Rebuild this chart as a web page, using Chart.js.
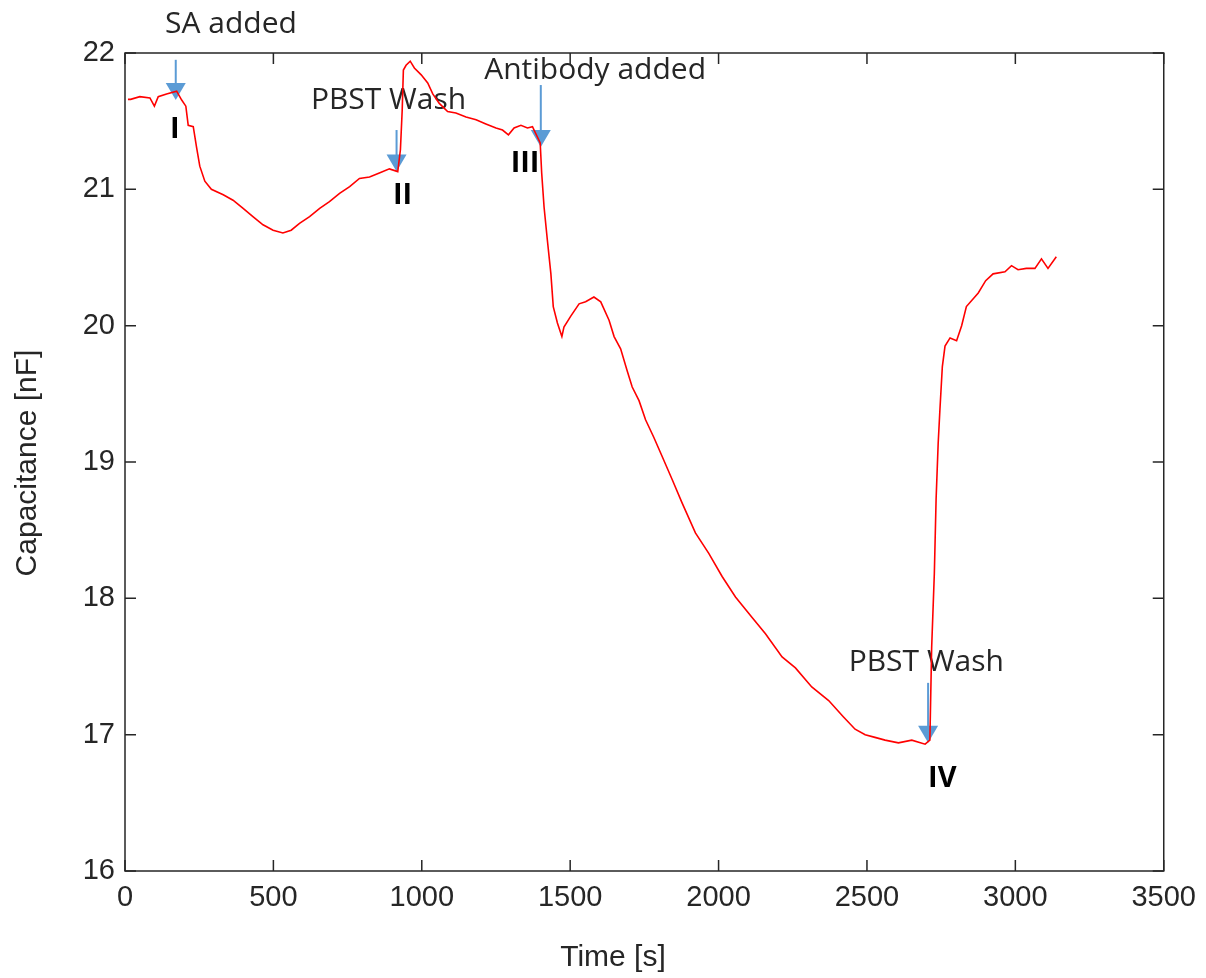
<!DOCTYPE html>
<html>
<head>
<meta charset="utf-8">
<script src="https://cdn.jsdelivr.net/npm/chart.js@4.4.1/dist/chart.umd.min.js"></script>
<style>
  html, body { margin: 0; padding: 0; background: #fff; }
  #wrap { width: 1206px; height: 978px; }
</style>
</head>
<body>
<div id="wrap"><canvas id="myChart" width="1206" height="978"></canvas></div>
<script>
// time in seconds
const times = [10, 19, 50, 84, 99, 112, 140, 174, 191, 205, 213, 230, 241, 252, 269, 291, 331, 364, 398, 431,
  465, 499, 532, 560, 588, 622, 656, 689, 723, 757, 790, 824, 857, 891, 919, 928, 934, 938, 947, 961,
  975, 998, 1020, 1037, 1059, 1087, 1115, 1149, 1183, 1216, 1250, 1272, 1292, 1311, 1334, 1356, 1373,
  1399, 1404, 1412, 1423, 1435, 1443, 1457, 1472, 1479, 1502, 1530, 1552, 1580, 1603, 1631, 1648,
  1670, 1692, 1709, 1732, 1754, 1782, 1810, 1844, 1877, 1922, 1967, 2012, 2057, 2113, 2158, 2214,
  2259, 2314, 2371, 2421, 2460, 2494, 2527, 2561, 2606, 2651, 2696, 2712, 2718, 2727, 2733, 2740,
  2746, 2754, 2763, 2780, 2802, 2819, 2835, 2875, 2900, 2925, 2965, 2987, 3009, 3037, 3066, 3088,
  3110, 3138];

// capacitance in nF
const capacitance = [21.66, 21.66, 21.68, 21.67, 21.61, 21.68, 21.70, 21.72, 21.655, 21.61, 21.47, 21.46, 21.31, 21.17, 21.06, 21.00, 20.96, 20.92, 20.86, 20.80,
  20.74, 20.70, 20.68, 20.70, 20.75, 20.80, 20.86, 20.91, 20.97, 21.02, 21.08, 21.09, 21.12, 21.15, 21.13, 21.29, 21.58, 21.875, 21.91, 21.94,
  21.89, 21.84, 21.78, 21.70, 21.63, 21.57, 21.56, 21.53, 21.51, 21.48, 21.45, 21.435, 21.40, 21.45, 21.47, 21.45, 21.46,
  21.34, 21.12, 20.87, 20.63, 20.38, 20.14, 20.02, 19.92, 19.99, 20.07, 20.16, 20.175, 20.21, 20.175, 20.04, 19.92,
  19.83, 19.67, 19.55, 19.45, 19.31, 19.18, 19.04, 18.87, 18.70, 18.48, 18.33, 18.16, 18.01, 17.86, 17.74, 17.57,
  17.49, 17.35, 17.25, 17.13, 17.04, 17.00, 16.98, 16.96, 16.94, 16.96, 16.93, 16.96, 17.64, 18.18, 18.73, 19.14,
  19.39, 19.70, 19.85, 19.91, 19.89, 20.00, 20.14, 20.24, 20.33, 20.38, 20.395, 20.44, 20.41, 20.42, 20.42, 20.49,
  20.42, 20.505];

// axis ticks
const xTicks = [0, 500, 1000, 1500, 2000, 2500, 3000, 3500];
const yTicks = [16, 17, 18, 19, 20, 21, 22];

// event arrows: x in s, tip and tail in nF
const arrowX = [171, 915, 1401, 2706];
const arrowTip = [21.655, 21.13, 21.31, 16.94];
const arrowTail = [21.95, 21.435, 21.765, 17.38];

// annotation texts
const notes = [
  { text: 'SA added', x: 357, y: 22.21, bold: false },
  { text: 'I', x: 168, y: 21.44, bold: true },
  { text: 'PBST Wash', x: 888, y: 21.65, bold: false },
  { text: 'II', x: 935, y: 20.95, bold: true },
  { text: 'Antibody added', x: 1584, y: 21.875, bold: false },
  { text: 'III', x: 1348, y: 21.19, bold: true },
  { text: 'PBST Wash', x: 2700, y: 17.53, bold: false },
  { text: 'IV', x: 2754, y: 16.68, bold: true }
];

const points = times.map((t, i) => ({ x: t, y: capacitance[i] }));

const axisFont = "'Liberation Sans', Arial, sans-serif";

// arrows and texts, drawn under the trace
const annotations = {
  id: 'annotations',
  beforeDatasetsDraw(c) {
    const ctx = c.ctx, xs = c.scales.x, ys = c.scales.y;
    ctx.save();
    ctx.strokeStyle = '#5b9bd5';
    ctx.fillStyle = '#5b9bd5';
    ctx.lineWidth = 2;
    for (let i = 0; i < arrowX.length; i++) {
      const px = xs.getPixelForValue(arrowX[i]);
      const tip = ys.getPixelForValue(arrowTip[i]);
      const tail = ys.getPixelForValue(arrowTail[i]);
      ctx.beginPath();
      ctx.moveTo(px, tail);
      ctx.lineTo(px, tip - 14);
      ctx.stroke();
      ctx.beginPath();
      ctx.moveTo(px - 10, tip - 17);
      ctx.lineTo(px + 10, tip - 17);
      ctx.lineTo(px, tip);
      ctx.closePath();
      ctx.fill();
    }
    ctx.textAlign = 'center';
    ctx.textBaseline = 'middle';
    notes.forEach(n => {
      ctx.font = n.bold ? "bold 29px 'Open Sans', sans-serif" : "30px 'Open Sans', sans-serif";
      ctx.fillStyle = n.bold ? '#000' : '#262626';
      ctx.fillText(n.text, xs.getPixelForValue(n.x), ys.getPixelForValue(n.y));
    });
    ctx.restore();
  }
};

// box with inward ticks on all sides, plus axis titles
const frame = {
  id: 'frame',
  afterDatasetsDraw(c) {
    const ctx = c.ctx, a = c.chartArea, xs = c.scales.x, ys = c.scales.y;
    ctx.save();
    ctx.strokeStyle = '#262626';
    ctx.lineWidth = 1.5;
    ctx.strokeRect(a.left, a.top, a.right - a.left, a.bottom - a.top);
    ctx.beginPath();
    xTicks.forEach(v => {
      const px = xs.getPixelForValue(v);
      ctx.moveTo(px, a.bottom); ctx.lineTo(px, a.bottom - 11);
      ctx.moveTo(px, a.top); ctx.lineTo(px, a.top + 11);
    });
    yTicks.forEach(v => {
      const py = ys.getPixelForValue(v);
      ctx.moveTo(a.left, py); ctx.lineTo(a.left + 11, py);
      ctx.moveTo(a.right, py); ctx.lineTo(a.right - 11, py);
    });
    ctx.stroke();

    ctx.fillStyle = '#262626';
    ctx.font = '30px ' + axisFont;
    ctx.textAlign = 'center';
    ctx.textBaseline = 'middle';
    ctx.fillText('Time [s]', 613, 958);
    ctx.translate(28, 463);
    ctx.rotate(-Math.PI / 2);
    ctx.fillText('Capacitance [nF]', 0, 0);
    ctx.restore();
  }
};

new Chart(document.getElementById('myChart'), {
  type: 'line',
  data: {
    datasets: [{
      data: points,
      borderColor: '#ff0000',
      borderWidth: 1.6,
      pointRadius: 0,
      tension: 0,
      fill: false
    }]
  },
  options: {
    responsive: false,
    animation: false,
    layout: { padding: { top: 53, right: 40, left: 0, bottom: 0 } },
    plugins: { legend: { display: false }, tooltip: { enabled: false } },
    scales: {
      x: {
        type: 'linear',
        min: 0,
        max: 3500,
        afterBuildTicks: s => { s.ticks = xTicks.map(v => ({ value: v })); },
        afterFit: s => { s.height = 107; },
        grid: { display: false, drawTicks: false },
        border: { display: false },
        ticks: {
          color: '#262626', padding: 10, maxRotation: 0, autoSkip: false,
          font: { family: axisFont, size: 29 },
          callback: v => String(v)
        }
      },
      y: {
        type: 'linear',
        min: 16,
        max: 22,
        afterBuildTicks: s => { s.ticks = yTicks.map(v => ({ value: v })); },
        afterFit: s => { s.width = 125; },
        grid: { display: false, drawTicks: false },
        border: { display: false },
        ticks: { color: '#262626', padding: 10, font: { family: axisFont, size: 29 }, callback: v => String(v) }
      }
    }
  },
  plugins: [annotations, frame]
});
</script>
</body>
</html>
